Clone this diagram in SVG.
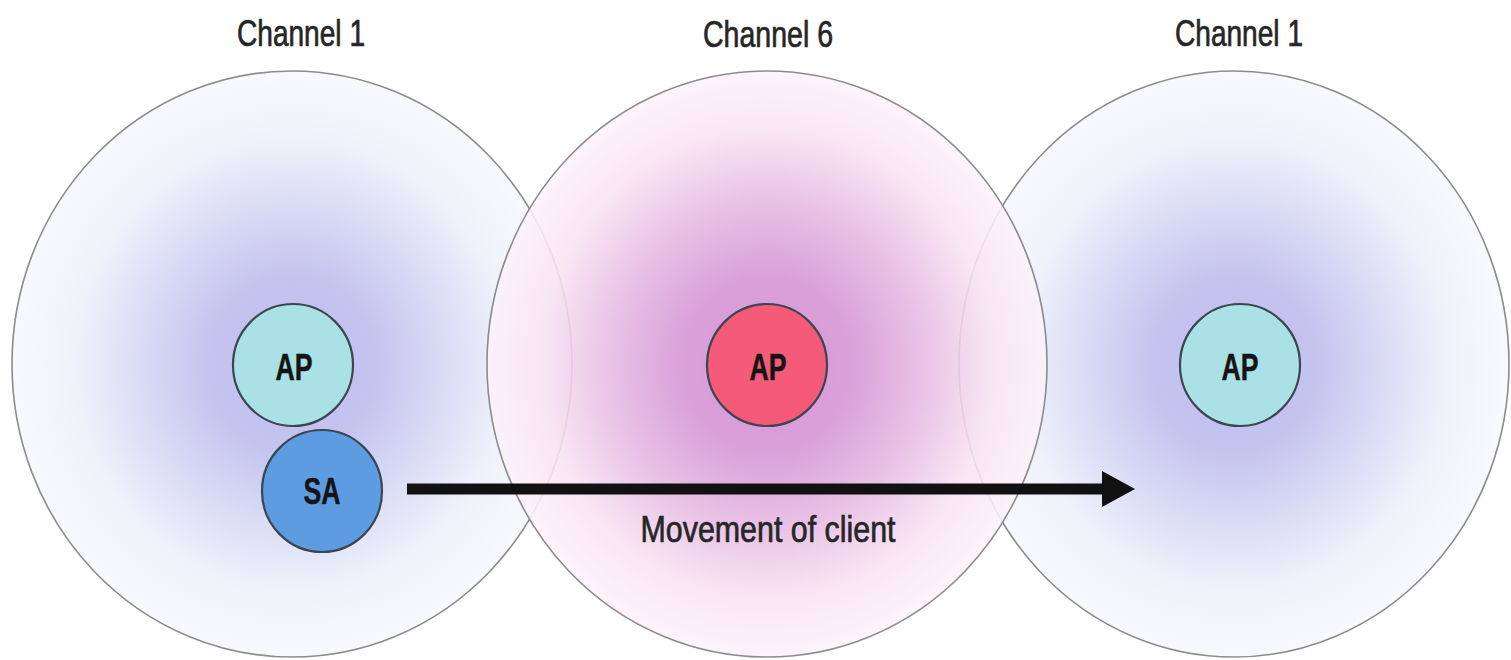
<svg xmlns="http://www.w3.org/2000/svg" width="1511" height="660" viewBox="0 0 1511 660">
  <style>
    .cell { stroke: #8c8c8c; stroke-width: 1.6; }
    .node { stroke: #3c4650; stroke-width: 2.2; }
    .lbl { font-family: "Liberation Sans", Arial, sans-serif; fill: #262626; stroke: #262626; stroke-width: 0.7; text-anchor: middle; }
    .nlbl { font-family: "Liberation Sans", Arial, sans-serif; font-weight: bold; fill: #141414; stroke: #141414; stroke-width: 0.5; text-anchor: middle; font-size: 37px; }
  </style>
  <defs>
    <!-- coverage shading for the channel 1 cells -->
    <radialGradient id="gBlue" cx="50%" cy="50%" r="50%">
      <stop offset="0" stop-color="#c2bdf0"/>
      <stop offset="0.3" stop-color="#c4c4ef"/>
      <stop offset="0.55" stop-color="#d9ddf5"/>
      <stop offset="0.78" stop-color="#f0f2fb"/>
      <stop offset="1" stop-color="#f8f9fd"/>
    </radialGradient>
    <!-- coverage shading for the channel 6 cell -->
    <radialGradient id="gPink" cx="50%" cy="50%" r="50%">
      <stop offset="0" stop-color="#ce88d0"/>
      <stop offset="0.3" stop-color="#d494d5"/>
      <stop offset="0.55" stop-color="#e5b8e2"/>
      <stop offset="0.8" stop-color="#f8e3f2"/>
      <stop offset="1" stop-color="#fdf2f9"/>
    </radialGradient>
    <marker id="arrowHead" markerUnits="userSpaceOnUse" markerWidth="34" markerHeight="38" refX="2" refY="19" orient="auto">
      <path d="M0,1 L33,19 L0,37 Z" fill="#111"/>
    </marker>
  </defs>

  <rect width="1511" height="660" fill="#ffffff"/>

  <!-- channel 1 cell, left -->
  <g id="cell-left">
    <ellipse class="cell" cx="292" cy="364" rx="280" ry="293" fill="url(#gBlue)"/>
  </g>
  <!-- channel 1 cell, right -->
  <g id="cell-right">
    <ellipse class="cell" cx="1234" cy="364" rx="275" ry="293" fill="url(#gBlue)"/>
  </g>
  <!-- channel 6 cell, centre, drawn over its neighbours -->
  <g id="cell-middle">
    <ellipse class="cell" cx="767" cy="364" rx="280" ry="293" fill="url(#gPink)" fill-opacity="0.88"/>
  </g>

  <!-- access points and station -->
  <g id="ap-left">
    <ellipse class="node" cx="293" cy="365" rx="60" ry="61" fill="#a9e1e6"/>
    <text class="nlbl" x="294" y="380" textLength="37" lengthAdjust="spacingAndGlyphs">AP</text>
  </g>
  <g id="sa">
    <ellipse class="node" cx="322" cy="491" rx="60" ry="61" fill="#5e9ce2" stroke="#2f4660"/>
    <text class="nlbl" x="322" y="504" textLength="37" lengthAdjust="spacingAndGlyphs">SA</text>
  </g>
  <g id="ap-middle">
    <ellipse class="node" cx="767" cy="365" rx="60" ry="61" fill="#f55a78" stroke="#4a3440"/>
    <text class="nlbl" x="768" y="380" textLength="37" lengthAdjust="spacingAndGlyphs">AP</text>
  </g>
  <g id="ap-right">
    <ellipse class="node" cx="1240" cy="365" rx="60" ry="61" fill="#a9e1e6"/>
    <text class="nlbl" x="1240" y="380" textLength="37" lengthAdjust="spacingAndGlyphs">AP</text>
  </g>

  <!-- client movement -->
  <g id="connectors">
    <line x1="407" y1="489" x2="1104" y2="489" stroke="#111" stroke-width="11" marker-end="url(#arrowHead)"/>
  </g>

  <!-- labels -->
  <g id="labels">
    <text class="lbl" x="301" y="46" font-size="36" textLength="128" lengthAdjust="spacingAndGlyphs">Channel 1</text>
    <text class="lbl" x="768" y="47" font-size="36" textLength="130" lengthAdjust="spacingAndGlyphs">Channel 6</text>
    <text class="lbl" x="1239" y="46" font-size="36" textLength="128" lengthAdjust="spacingAndGlyphs">Channel 1</text>
    <text class="lbl" x="768" y="542" font-size="36" textLength="255" lengthAdjust="spacingAndGlyphs">Movement of client</text>
  </g>
</svg>
